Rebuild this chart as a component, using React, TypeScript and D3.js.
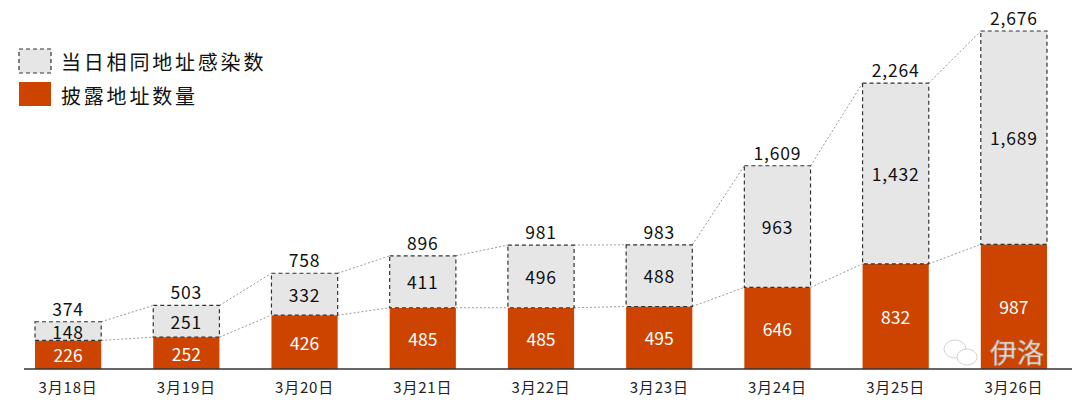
import React from "react";
import * as d3 from "d3";

const categories = ["3月18日", "3月19日", "3月20日", "3月21日", "3月22日", "3月23日", "3月24日", "3月25日", "3月26日"];
const disclosed = [226, 252, 426, 485, 485, 495, 646, 832, 987];
const sameAddr = [148, 251, 332, 411, 496, 488, 963, 1432, 1689];
const totals = [374, 503, 758, 896, 981, 983, 1609, 2264, 2676];
const legendLabels = ["当日相同地址感染数", "披露地址数量"];

const W = 1080;
const H = 407;
const ORANGE = "#CC4400";
const GREY = "#E6E6E6";
const FONT = "'Noto Sans CJK SC', 'Noto Sans', sans-serif";

export default function App() {
  const x = d3.scaleBand<string>().domain(categories).range([9, 1073]).paddingInner(0.44).paddingOuter(0.22);
  const y = d3.scaleLinear().domain([0, 2676]).range([369, 31]);
  const bw = x.bandwidth();
  const fmt = d3.format(",");

  const connectors: JSX.Element[] = [];
  for (let i = 0; i < categories.length - 1; i++) {
    const x1 = (x(categories[i]) as number) + bw;
    const x2 = x(categories[i + 1]) as number;
    connectors.push(
      <line key={"t" + i} x1={x1} x2={x2} y1={y(totals[i])} y2={y(totals[i + 1])} stroke="#9a9a9a" strokeWidth={1} strokeDasharray="2,2" />
    );
    connectors.push(
      <line key={"o" + i} x1={x1} x2={x2} y1={y(disclosed[i])} y2={y(disclosed[i + 1])} stroke="#9a9a9a" strokeWidth={1} strokeDasharray="2,2" />
    );
  }

  return (
    <svg width={W} height={H} style={{ position: "absolute", left: 0, top: 0, background: "#fff" }} fontFamily={FONT}>
      <rect x={0} y={0} width={W} height={H} fill="#fff" />
      {connectors}
      {categories.map((c, i) => {
        const bx = x(c) as number;
        const yO = y(disclosed[i]);
        const yT = y(disclosed[i] + sameAddr[i]);
        const cx = bx + bw / 2;
        return (
          <g key={c}>
            <rect x={bx} y={yO} width={bw} height={y(0) - yO} fill={ORANGE} />
            <rect x={bx} y={yT} width={bw} height={yO - yT} fill={GREY} stroke="#333" strokeWidth={1.2} strokeDasharray="4,3" />
            <text x={cx} y={(yO + y(0)) / 2} textAnchor="middle" dominantBaseline="central" fill="#fff" fontSize={17.5}>
              {fmt(disclosed[i])}
            </text>
            <text x={cx} y={(yT + yO) / 2} textAnchor="middle" dominantBaseline="central" fill="#111" fontSize={17.5} letterSpacing={0.8}>
              {fmt(sameAddr[i])}
            </text>
            <text x={cx} y={yT - 6} textAnchor="middle" fill="#111" fontSize={17.5} letterSpacing={0.8}>
              {fmt(totals[i])}
            </text>
            <text x={cx} y={386} textAnchor="middle" dominantBaseline="central" fill="#222" fontSize={15} letterSpacing={0.8}>
              {c}
            </text>
          </g>
        );
      })}
      <line x1={24} x2={1072} y1={369} y2={369} stroke="#333" strokeWidth={1.3} />
      <g>
        <rect x={19} y={49} width={32} height={24} fill={GREY} stroke="#333" strokeWidth={1.2} strokeDasharray="4,3" />
        <text x={61} y={61} dominantBaseline="central" fontSize={20} fill="#111" letterSpacing={2.8}>
          {legendLabels[0]}
        </text>
        <rect x={19} y={82} width={32} height={24} fill={ORANGE} />
        <text x={61} y={95} dominantBaseline="central" fontSize={20} fill="#111" letterSpacing={2.8}>
          {legendLabels[1]}
        </text>
      </g>
      <g opacity={0.85}>
        <ellipse cx={955} cy={349} rx={11} ry={9} fill="#fff" stroke="#ccc" strokeWidth={1} />
        <ellipse cx={967} cy={357} rx={10} ry={8} fill="#fff" stroke="#ccc" strokeWidth={1} />
        <text x={990} y={363} fontSize={27} fill="#fff" stroke="#aaa" strokeWidth={0.7}>
          伊洛
        </text>
      </g>
    </svg>
  );
}
